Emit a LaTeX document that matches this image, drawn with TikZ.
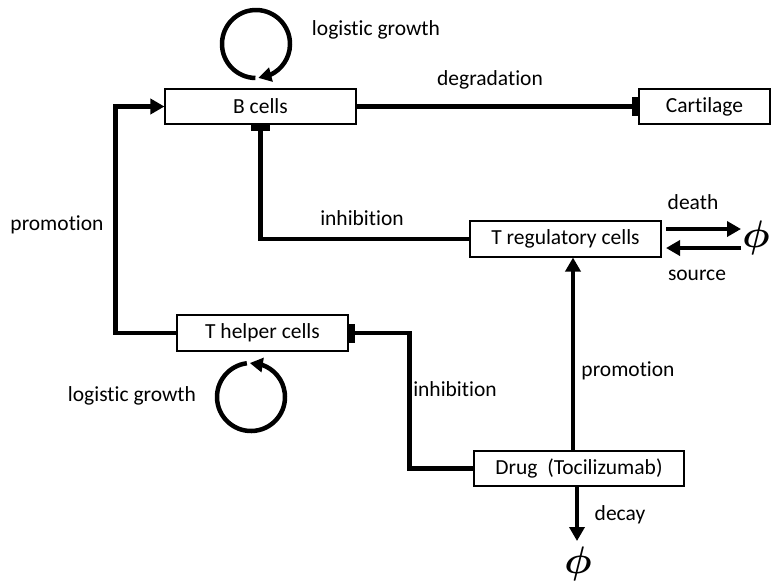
\documentclass[tikz,border=0pt]{standalone}
\usepackage{fontspec}
\setmainfont{Carlito}[RawFeature=-liga]
\usetikzlibrary{arrows.meta,bending}
\begin{document}
\begin{tikzpicture}[x=1pt,y=-1pt,
  font=\fontsize{21.5}{25}\selectfont,
  box/.style={draw,line width=1.1pt,rectangle,inner sep=0pt,minimum height=35pt},
  lbl/.style={inner sep=0pt},
  promo/.style={line width=4.5pt,-{Triangle[length=14pt,width=15pt]}},
  inhib/.style={line width=4.5pt,-{Rectangle[length=6pt,width=19pt]}},
  growth/.style={line width=4.5pt,-{Triangle[length=13pt,width=14pt,flex]}},
  nullset/.style={inner sep=0pt,font=\fontsize{20}{24}\selectfont\boldmath,scale=1.85}]
\useasboundingbox (0,0) rectangle (771,582);

% compartments
\node[box,minimum width=191pt] (bc) at (260.5,106.5) {B cells};
\node[box,minimum width=131pt] (ca) at (704.5,106.5) {Cartilage};
\node[box,minimum width=191pt,minimum height=36pt] (tr) at (565.5,239) {T regulatory cells};
\node[box,minimum width=171pt,minimum height=36pt] (th) at (262.5,333) {T helper cells};
\node[box,minimum width=210pt] (dr) at (579,468.5) {Drug~ (Tocilizumab)};

% empty-set sinks and sources
\node[nullset] (phir) at (756,238) {$\phi$};
\node[nullset] (phib) at (578,564) {$\phi$};

% self-loops for logistic growth
\coordinate (lb) at (256,44);
\coordinate (lt) at (251,397);
\draw[growth] ([shift={(-269:34)}]lb) arc[start angle=-269,end angle=86,radius=34];
\draw[growth] ([shift={(623:34)}]lt) arc[start angle=623,end angle=268,radius=34];

% interactions
\draw[promo] (th.west) -- ++(-61,0) |- (bc.west);
\draw[inhib] (bc.east) -- (ca.west);
\draw[inhib] (tr.west) -| (bc.south);
\draw[inhib] (dr.west) -- ++(-64,0) |- (th.east);
\draw[promo] ([xshift=-6pt]dr.north) -- ([xshift=-6pt]dr.north |- tr.south);
\coordinate (decayend) at (577,541);
\draw[promo] ([xshift=-2pt]dr.south) -- (decayend);

% turnover of regulatory T cells
\coordinate (da) at (666,229);
\coordinate (db) at (741,229);
\coordinate (sa) at (741,248);
\coordinate (sb) at (666,248);
\draw[promo] (da) -- (db);
\draw[promo] (sa) -- (sb);

% labels
\node[lbl] (lg1) at (376,30) {logistic growth};
\node[lbl] (lg2) at (132,396) {logistic growth};
\node[lbl] (pr1) at (57,225) {promotion};
\node[lbl] (deg) at (490,80) {degradation};
\node[lbl] (in1) at (362,218) {inhibition};
\node[lbl] (dth) at (693,202) {death};
\node[lbl] (src) at (697,275) {source};
\node[lbl] (in2) at (455,389) {inhibition};
\node[lbl] (pr2) at (628,371) {promotion};
\node[lbl] (dcy) at (620,515) {decay};
\end{tikzpicture}
\end{document}
